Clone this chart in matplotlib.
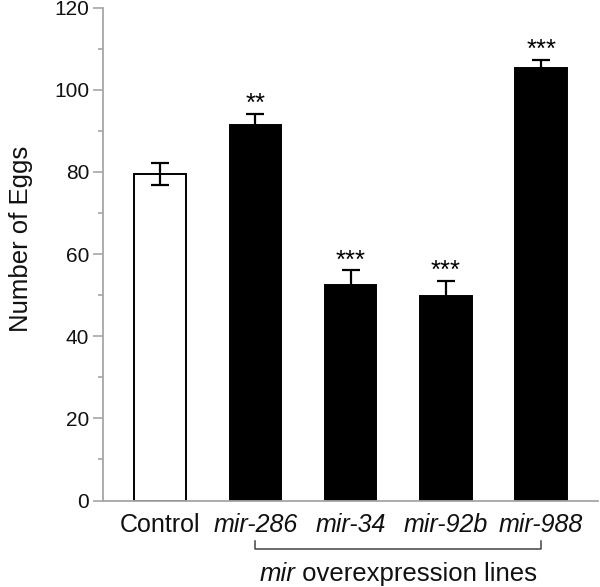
import matplotlib
matplotlib.use("Agg")
import matplotlib.pyplot as plt
from matplotlib.ticker import MultipleLocator

plt.rcParams['font.family'] = ['Liberation Sans', 'DejaVu Sans']

categories = ["Control", "mir-286", "mir-34", "mir-92b", "mir-988"]
values = [79.4, 91.5, 52.5, 49.8, 105.3]
errors = [2.7, 2.6, 3.5, 3.6, 1.9]
stars = ["", "**", "***", "***", "***"]
ylabel = "Number of Eggs"
group_label_italic = "mir"
group_label_rest = " overexpression lines"

fig = plt.figure(figsize=(6.0, 5.87), dpi=100)
top_px, bot_px = 7.5, 500.5
ax = fig.add_axes([103/600, 1 - bot_px/587, (598-103)/600, (bot_px-top_px)/587])

x = list(range(len(categories)))
colors = ["white"] + ["black"] * (len(categories) - 1)
ax.bar(x, values, width=0.54, color=colors, edgecolor="black", linewidth=1.4, zorder=2)
ax.errorbar(x, values, yerr=errors, fmt="none", ecolor="black", elinewidth=1.6,
            capsize=6.5, capthick=1.6, zorder=3)

for xi, v, e, s in zip(x, values, errors, stars):
    if s:
        ax.text(xi, v + e + 0.7, s, ha="center", va="baseline", fontsize=18.5,
                color="black")

ax.set_xlim(-0.598, 4.596)
ax.set_ylim(0, 120)
ax.yaxis.set_major_locator(MultipleLocator(20))
ax.yaxis.set_minor_locator(MultipleLocator(10))

grey = "#a6a6a6"
for side in ["top", "right"]:
    ax.spines[side].set_visible(False)
for side in ["left", "bottom"]:
    ax.spines[side].set_color(grey)
    ax.spines[side].set_linewidth(1.3)
ax.tick_params(axis="y", which="major", length=7, width=1.2, color=grey,
               labelsize=15, pad=3, labelcolor="#111111")
ax.tick_params(axis="y", which="minor", length=3.6, width=1.2, color=grey)
ax.tick_params(axis="x", length=0, pad=9, labelsize=18, labelcolor="#111111")
ax.set_xticks(x)
ax.set_xticklabels(categories)
for lbl in ax.get_xticklabels()[1:]:
    lbl.set_fontstyle("italic")

ax.set_ylabel(ylabel, fontsize=18.5, color="#111111")
ax.yaxis.set_label_coords(-0.142, 0.53)

# bracket under mir lines
y_top, y_bot = -9.8, -11.8
ax.plot([1, 1, 4, 4], [y_top, y_bot, y_bot, y_top], color="#444444", lw=1.1,
        clip_on=False)

# group label with italic "mir"
fig.canvas.draw()
r = fig.canvas.get_renderer()
t1 = ax.text(0, -17.8, group_label_italic, fontsize=18.5, style="italic",
             ha="left", va="center", color="#111111", clip_on=False)
t2 = ax.text(0, -17.8, group_label_rest, fontsize=18.5,
             ha="left", va="center", color="#111111", clip_on=False)
w1 = t1.get_window_extent(r).width
w2 = t2.get_window_extent(r).width
cx = ax.transData.transform((2.5, 0))[0]
start = cx - (w1 + w2) / 2
inv = ax.transData.inverted()
x1 = inv.transform((start, 0))[0]
x2 = inv.transform((start + w1, 0))[0]
t1.set_x(x1)
t2.set_x(x2)

fig.savefig("out.png", dpi=100)
